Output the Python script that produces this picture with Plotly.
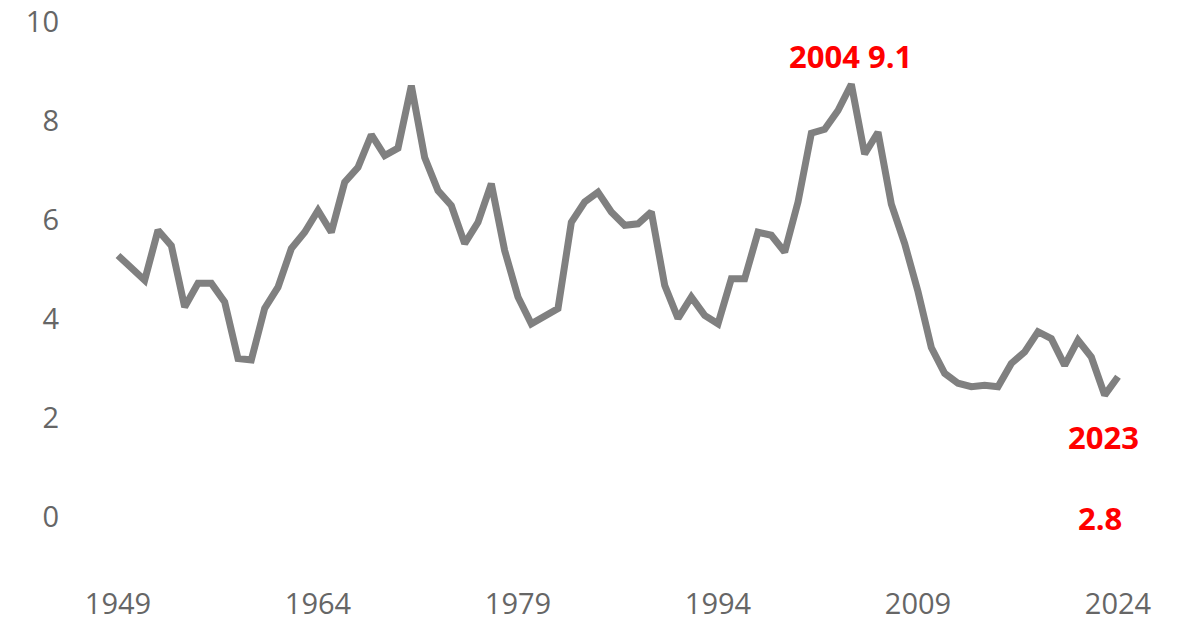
import plotly.graph_objects as go

years = list(range(1949, 2025))
values = [
    5.28, 5.01, 4.78, 5.79, 5.48, 4.24, 4.72, 4.72, 4.34, 3.20,  # 1949-1958
    3.17, 4.21, 4.64, 5.42, 5.75, 6.19, 5.75, 6.76, 7.06, 7.72,  # 1959-1968
    7.30, 7.45, 8.71, 7.26, 6.59, 6.29, 5.52, 5.95, 6.73, 5.38,  # 1969-1978
    4.44, 3.90, 4.07, 4.21, 5.95, 6.36, 6.56, 6.16, 5.89, 5.92,  # 1979-1988
    6.16, 4.68, 4.01, 4.44, 4.07, 3.90, 4.81, 4.81, 5.75, 5.69,  # 1989-1998
    5.35, 6.36, 7.75, 7.83, 8.21, 8.74, 7.33, 7.77, 6.32, 5.52,  # 1999-2008
    4.55, 3.42, 2.90, 2.70, 2.63, 2.66, 2.63, 3.10, 3.33, 3.74,  # 2009-2018
    3.60, 3.06, 3.57, 3.23, 2.46, 2.83,                          # 2019-2024
]
x_ticks = [1949, 1964, 1979, 1994, 2009, 2024]
y_ticks = [0, 2, 4, 6, 8, 10]

peak_label = "2004 9.1"
end_year_label = "2023"
end_val_label = "2.8"

fig = go.Figure()
fig.add_trace(go.Scatter(
    x=years, y=values, mode="lines",
    line=dict(color="#808080", width=7),
    hoverinfo="x+y", showlegend=False,
))

red = "#ff0000"
afont = dict(family="Open Sans", size=31, color=red, weight="bold")
fig.add_annotation(x=2003.9, y=9.31, text=peak_label, showarrow=False, font=afont)
fig.add_annotation(x=2022.9, y=1.62, text=end_year_label, showarrow=False, font=afont)
fig.add_annotation(x=2022.65, y=-0.02, text=end_val_label, showarrow=False, font=afont)

tickfont = dict(family="Open Sans", size=29, color="#666666")
fig.update_layout(
    width=1184, height=621,
    margin=dict(l=60, r=30, t=10, b=70),
    paper_bgcolor="white", plot_bgcolor="white",
    xaxis=dict(range=[1944.65, 2026.7], tickvals=x_ticks, showgrid=False,
               zeroline=False, showline=False, tickfont=tickfont,
               ticklabelstandoff=33, automargin=False,
               ticklabeloverflow="allow"),
    yaxis=dict(range=[-0.69, 10.24], tickvals=y_ticks, showgrid=False,
               zeroline=False, showline=False, tickfont=tickfont,
               ticklabelstandoff=0, automargin=False,
               ticklabeloverflow="allow"),
)
fig.write_html("out.html",
               config={"displayModeBar": False},
               post_script="document.body.style.margin='0px';document.body.style.overflow='hidden';")
